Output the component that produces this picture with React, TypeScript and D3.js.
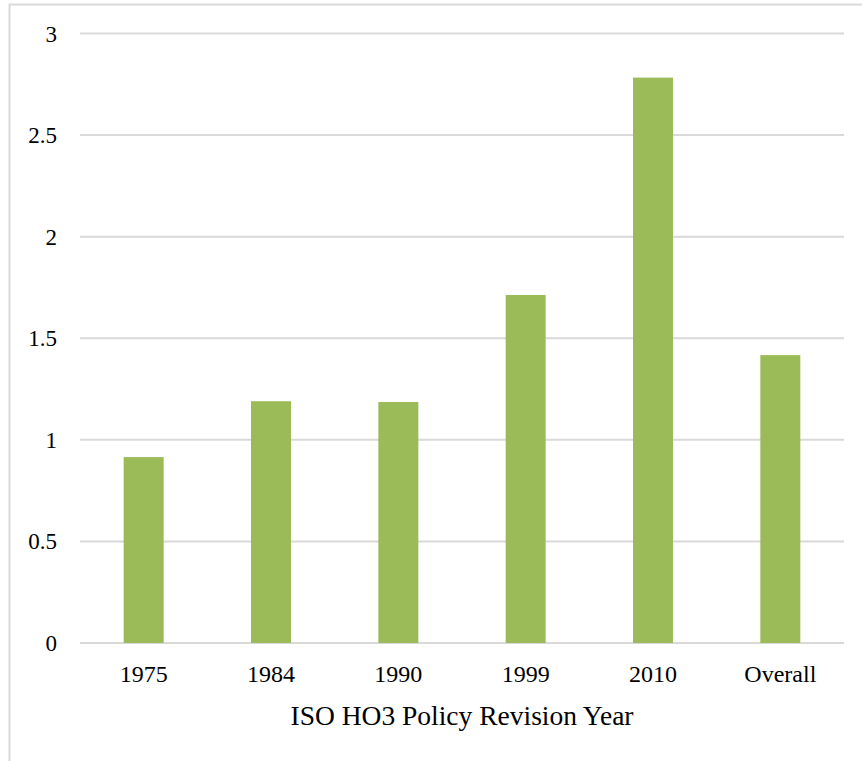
import React from "react";
import * as d3 from "d3";

const categories = ["1975", "1984", "1990", "1999", "2010", "Overall"];
const values = [0.915, 1.19, 1.186, 1.713, 2.783, 1.417];
const yTicks = [0, 0.5, 1, 1.5, 2, 2.5, 3];
const xTitle = "ISO HO3 Policy Revision Year";

const W = 862;
const H = 761;
const left = 80;
const right = 844;
const top = 33.5;
const bottom = 643;
const font = "'Liberation Serif', 'Times New Roman', serif";

export default function App() {
  const x = d3.scaleBand<string>().domain(categories).range([left, right]).padding(0);
  const y = d3.scaleLinear().domain([0, 3]).range([bottom, top]);
  const barW = x.bandwidth() * 0.314;
  return (
    <svg width={W} height={H} style={{ position: "absolute", left: 0, top: 0 }}>
      <rect x={0} y={0} width={W} height={H} fill="#fff" />
      <rect x={9.5} y={4.5} width={W + 10} height={H + 10} fill="none" stroke="#d9d9d9" strokeWidth={2} />
      {yTicks.map((t) => (
        <g key={t}>
          <line x1={left} x2={right} y1={y(t)} y2={y(t)} stroke="#d9d9d9" strokeWidth={2} />
          <text x={57} y={y(t)} dy="0.35em" textAnchor="end" fontFamily={font} fontSize={23} fill="#000">
            {String(t)}
          </text>
        </g>
      ))}
      {categories.map((c, i) => (
        <rect
          key={c}
          x={(x(c) as number) + x.bandwidth() / 2 - barW / 2}
          y={y(values[i])}
          width={barW}
          height={y(0) - y(values[i])}
          fill="#9BBB59"
        />
      ))}
      {categories.map((c) => (
        <text key={c} x={(x(c) as number) + x.bandwidth() / 2} y={674} dy="0.35em" textAnchor="middle" fontFamily={font} fontSize={24} fill="#000">
          {c}
        </text>
      ))}
      <text x={(left + right) / 2} y={715} dy="0.35em" textAnchor="middle" fontFamily={font} fontSize={27.5} fill="#000">
        {xTitle}
      </text>
    </svg>
  );
}
